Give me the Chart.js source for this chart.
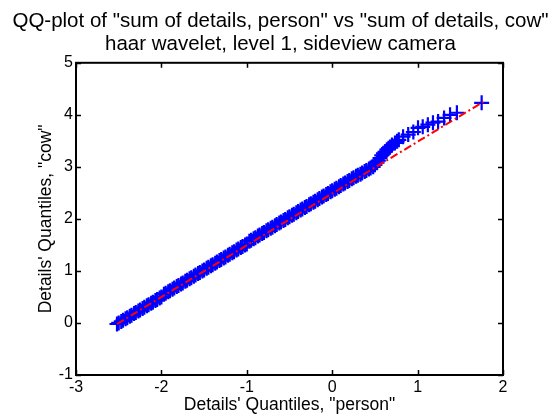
<!DOCTYPE html>
<html>
<head>
<meta charset="utf-8">
<script src="https://cdn.jsdelivr.net/npm/chart.js@4.4.1/dist/chart.umd.min.js"></script>
<style>
html,body{margin:0;padding:0;background:#fff;}
#wrap{width:555px;height:417px;}
</style>
</head>
<body>
<div id="wrap"><canvas id="c" width="555" height="417"></canvas></div>
<script>
// Quantiles of "person" (x) and "cow" (y)
const personQuantiles = [-2.52,-2.50,-2.47,-2.45,-2.42,-2.40,-2.37,-2.35,-2.32,-2.30,-2.27,-2.25,-2.22,-2.20,-2.17,-2.15,-2.12,-2.10,-2.07,-2.05,-2.02,-2.00,
-1.97,-1.95,-1.92,-1.90,-1.87,-1.85,-1.82,-1.80,-1.77,-1.75,-1.72,-1.70,-1.67,-1.65,-1.62,-1.60,-1.57,-1.55,-1.52,-1.50,-1.47,-1.45,-1.42,-1.40,-1.37,-1.35,-1.32,-1.30,-1.27,-1.25,-1.22,-1.20,-1.17,-1.15,-1.12,-1.10,-1.07,-1.05,-1.02,-1.00,
-0.97,-0.95,-0.92,-0.90,-0.87,-0.85,-0.82,-0.80,-0.77,-0.75,-0.72,-0.70,-0.67,-0.65,-0.62,-0.60,-0.57,-0.55,-0.52,-0.50,-0.47,-0.45,-0.42,-0.40,-0.37,-0.35,-0.32,-0.30,-0.27,-0.25,-0.22,-0.20,-0.17,-0.15,-0.12,-0.10,-0.07,-0.05,-0.02,
0.00,0.03,0.05,0.08,0.10,0.13,0.15,0.18,0.20,0.23,0.25,0.28,0.30,0.33,0.35,0.38,0.40,0.43,0.45,
0.48,0.50,0.525,0.54,0.56,0.58,0.60,0.618,0.64,0.66,0.677,0.70,0.735,0.76,0.78,0.83,0.89,0.95,1.005,1.06,1.12,1.18,1.24,1.31,1.38,1.46,1.75];
const cowQuantiles = [-0.02,0.00,0.03,0.05,0.08,0.10,0.13,0.15,0.18,0.20,0.23,0.25,0.28,0.30,0.33,0.35,0.38,0.40,0.43,0.45,0.48,0.50,
0.55,0.57,0.60,0.62,0.65,0.67,0.70,0.72,0.75,0.77,0.80,0.82,0.85,0.87,0.90,0.92,0.95,0.97,1.00,1.02,1.05,1.07,1.10,1.12,1.15,1.17,1.20,1.22,1.25,1.27,1.30,1.32,1.35,1.37,1.40,1.42,1.45,1.47,1.50,1.52,
1.57,1.59,1.62,1.64,1.67,1.69,1.72,1.74,1.77,1.79,1.82,1.84,1.87,1.89,1.92,1.94,1.97,1.99,2.02,2.04,2.07,2.09,2.12,2.14,2.17,2.19,2.22,2.24,2.27,2.29,2.32,2.34,2.37,2.39,2.42,2.44,2.47,2.49,2.52,
2.54,2.57,2.59,2.62,2.64,2.67,2.69,2.72,2.74,2.77,2.79,2.82,2.84,2.86,2.88,2.91,2.93,2.96,2.98,
3.00,3.04,3.08,3.12,3.17,3.22,3.26,3.29,3.33,3.36,3.38,3.42,3.46,3.49,3.52,3.58,3.62,3.67,3.75,3.77,3.81,3.85,3.87,3.94,4.00,4.04,4.23];
// Reference line (through quartiles, extended to data range)
const refLineX = [-2.52, 1.77];
const refLineY = [-0.02, 4.25];
const xTicks = [-3,-2,-1,0,1,2];
const yTicks = [-1,0,1,2,3,4,5];

const titleLines = ['QQ-plot of "sum of details, person" vs "sum of details, cow"', 'haar wavelet, level 1, sideview camera'];
const xLabel = 'Details\' Quantiles, "person"';
const yLabel = 'Details\' Quantiles, "cow"';

const FONT = '"Liberation Sans", Arial, sans-serif';
Chart.defaults.color = '#000';
Chart.defaults.font.family = FONT;

const pts = personQuantiles.map((x,i)=>({x:x, y:cowQuantiles[i]}));
const line = refLineX.map((x,i)=>({x:x, y:refLineY[i]}));

const boxPlugin = {
  id:'boxPlugin',
  afterDraw(chart){
    const {ctx, chartArea:a, scales} = chart;
    ctx.save();
    ctx.strokeStyle = '#000';
    ctx.lineWidth = 1.5;
    ctx.beginPath();
    xTicks.forEach(v=>{
      const px = Math.round(scales.x.getPixelForValue(v))+0.5;
      ctx.moveTo(px, a.bottom); ctx.lineTo(px, a.bottom-5);
      ctx.moveTo(px, a.top); ctx.lineTo(px, a.top+5);
    });
    yTicks.forEach(v=>{
      const py = Math.round(scales.y.getPixelForValue(v))+0.5;
      ctx.moveTo(a.left, py); ctx.lineTo(a.left+5, py);
      ctx.moveTo(a.right, py); ctx.lineTo(a.right-5, py);
    });
    ctx.stroke();
    ctx.lineWidth = 2;
    ctx.strokeRect(a.left, a.top, a.right-a.left, a.bottom-a.top);
    ctx.restore();
  }
};

new Chart(document.getElementById('c'), {
  type:'scatter',
  data:{
    datasets:[
      {
        type:'line',
        data: line,
        borderColor:'#ff0000',
        borderWidth:2,
        borderDash:[8,3,2,3],
        pointRadius:0,
        fill:false,
        order:0
      },
      {
        data: pts,
        pointStyle:'cross',
        pointRadius:7.5,
        pointBorderWidth:2.2,
        borderColor:'#0000ff',
        backgroundColor:'#0000ff',
        order:1
      }
    ]
  },
  options:{
    responsive:false,
    animation:false,
    events:[],
    layout:{padding:{top:0,right:0,left:6,bottom:0}},
    plugins:{
      legend:{display:false},
      tooltip:{enabled:false},
      title:{
        display:true,
        text:titleLines,
        color:'#000',
        font:{family:FONT,size:20.5,weight:'normal',lineHeight:1.1},
        padding:{top:10.5,bottom:7.2}
      }
    },
    scales:{
      x:{
        type:'linear',
        min:-3,max:2,
        afterBuildTicks(s){ s.ticks = xTicks.map(v=>({value:v})); },
        afterFit(s){ s.height = 42; },
        grid:{display:false,drawTicks:false},
        border:{display:true,color:'#000',width:2},
        ticks:{padding:3,font:{family:FONT,size:16},color:'#000',maxRotation:0},
        title:{display:true,text:xLabel,color:'#000',font:{family:FONT,size:17.5,lineHeight:1.2},padding:{top:0,bottom:1.5}}
      },
      y:{
        type:'linear',
        min:-1,max:5,
        afterBuildTicks(s){ s.ticks = yTicks.map(v=>({value:v})); },
        afterFit(s){ s.width = 70; },
        grid:{display:false,drawTicks:false},
        border:{display:true,color:'#000',width:2},
        ticks:{padding:3,font:{family:FONT,size:16},color:'#000'},
        title:{display:true,text:yLabel,color:'#000',font:{family:FONT,size:17.5,lineHeight:1.2},padding:{top:29.5,bottom:0}}
      },
      yRight:{
        type:'linear',
        position:'right',
        min:-1,max:5,
        afterFit(s){ s.width = 52; },
        grid:{display:false,drawTicks:false},
        border:{display:false},
        ticks:{display:false}
      }
    }
  },
  plugins:[boxPlugin]
});
</script>
</body>
</html>
